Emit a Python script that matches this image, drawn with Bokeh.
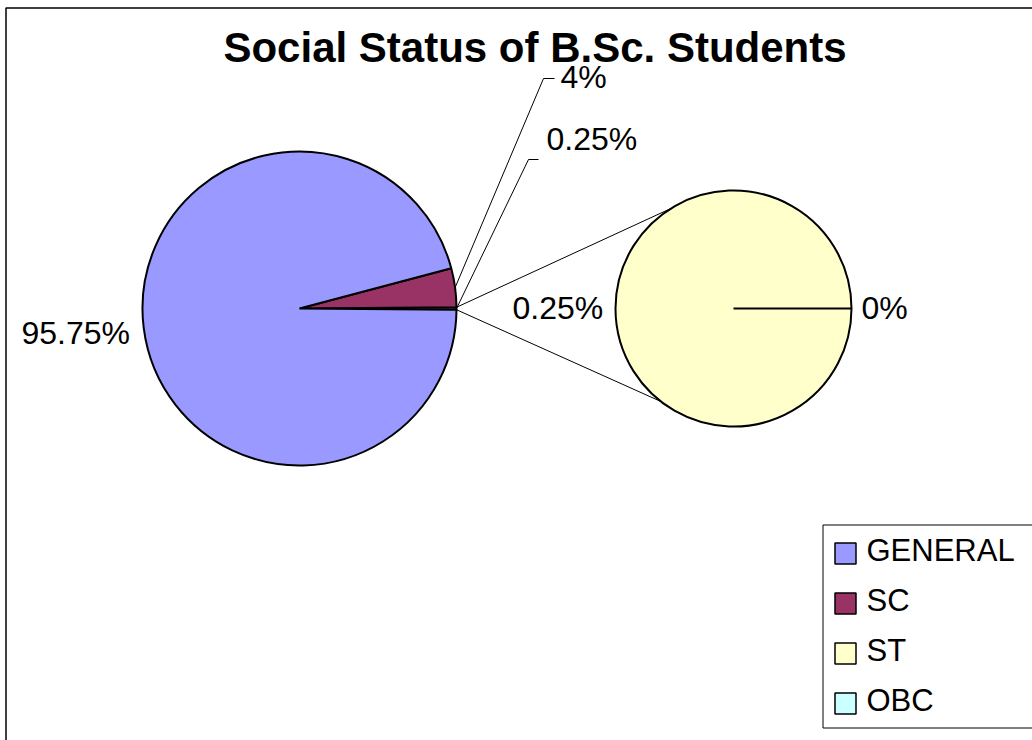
import math
from bokeh.plotting import figure
from bokeh.models import Range1d, ColumnDataSource
from bokeh.core.properties import value
from bokeh.embed import file_html
from bokeh.resources import INLINE

# ---------------- data ----------------
title_text = "Social Status of B.Sc. Students"
categories = ["GENERAL", "SC", "ST", "OBC"]
percentages = [95.75, 4.0, 0.25, 0.0]
colors = ["#9999FF", "#993366", "#FFFFCC", "#CCFFFF"]
secondary = ["ST", "OBC"]          # categories split out into the second pie

# ---------------- layout ----------------
W, H = 1032, 740
FONT = "Liberation Sans"
p = figure(width=W, height=H, output_backend="svg", toolbar_location=None,
           x_range=Range1d(0, W), y_range=Range1d(-H, 0),
           x_axis_type=None, y_axis_type=None, min_border=0)
p.grid.visible = False
p.outline_line_color = None
p.background_fill_color = "white"
p.border_fill_color = "white"

# chart-area border (right/bottom edges run off the page)
p.quad(left=[5.5], right=[1200], top=[-7.5], bottom=[-900],
       fill_color=None, line_color="black", line_width=1.5)

main_cx, main_cy, main_r = 299, -308, 157
sec_cx, sec_cy, sec_r = 733, -308, 118

val = dict(zip(categories, percentages))
col = dict(zip(categories, colors))
other_total = sum(val[c] for c in secondary)
primary = [c for c in categories if c not in secondary]

# main pie: "Other" slice centred on 0 deg, then the rest counter-clockwise
half = other_total / 100 * math.pi
m_names, m_start, m_end, m_col = ["Other"], [-half], [half], [col["ST"]]
a = half
for c in reversed(primary):
    e = a + val[c] / 100 * 2 * math.pi
    m_names.append(c); m_start.append(a); m_end.append(e); m_col.append(col[c])
    a = e
msrc = ColumnDataSource(dict(name=m_names, start=m_start, end=m_end, color=m_col))
p.wedge(x=main_cx, y=main_cy, radius=main_r, start_angle="start", end_angle="end",
        fill_color="color", line_color="black", line_width=2, source=msrc)

# secondary pie
s_start, s_end, s_col = [], [], []
a = 0.0
for c in secondary:
    share = val[c] / other_total if other_total else 0
    if share > 0:
        e = a + min(share * 2 * math.pi, 2 * math.pi - 1e-4)
        s_start.append(a); s_end.append(e); s_col.append(col[c])
        a = e
ssrc = ColumnDataSource(dict(start=s_start, end=s_end, color=s_col))
p.wedge(x=sec_cx, y=sec_cy, radius=sec_r, start_angle="start", end_angle="end",
        fill_color="color", line_color="black", line_width=2, source=ssrc)

def on_circle(cx, cy, r, ang):
    return cx + r * math.cos(ang), cy + r * math.sin(ang)

# connector lines between the pies
u0 = on_circle(main_cx, main_cy, main_r, half)
l0 = on_circle(main_cx, main_cy, main_r, -half)
u1 = on_circle(sec_cx, sec_cy, sec_r, math.radians(122))
l1 = on_circle(sec_cx, sec_cy, sec_r, math.radians(-128))
p.multi_line(xs=[[u0[0], u1[0]], [l0[0], l1[0]]], ys=[[u0[1], u1[1]], [l0[1], l1[1]]],
             line_color="black", line_width=1)

# leader lines
sc_idx = m_names.index("SC")
sc_mid = (m_start[sc_idx] + m_end[sc_idx]) / 2
sp = on_circle(main_cx, main_cy, main_r, sc_mid)
op = on_circle(main_cx, main_cy, main_r, 0.0)
p.multi_line(xs=[[sp[0], 543, 554], [op[0], 528, 538]],
             ys=[[sp[1], -78, -78], [op[1], -159, -159]],
             line_color="black", line_width=1)

def fmt(v):
    return f"{v:g}%"

# title
p.text(x=[534.5], y=[-47], text=[title_text], text_align="center",
       text_baseline="alphabetic", text_font=value(FONT), text_font_size="42px",
       text_font_style="bold", text_color="black")

# data labels
lab_x = [21, 560, 546, 512, 861]
lab_y = [-332, -76, -138, -307, -307]
lab_t = [fmt(val["GENERAL"]), fmt(val["SC"]), fmt(other_total),
         fmt(val["ST"]), fmt(val["OBC"])]
p.text(x=lab_x, y=lab_y, text=lab_t, text_align="left", text_baseline="alphabetic",
       text_font=value(FONT), text_font_size="32px", text_color="black")

# legend
p.quad(left=[822.5], right=[1200], top=[-524.5], bottom=[-727.5],
       fill_color="white", line_color="black", line_width=1)
n = len(categories)
p.rect(x=[845] * n, y=[-(553 + 50 * i) for i in range(n)], width=21, height=21,
       fill_color=colors, line_color="black", line_width=1.5)
p.text(x=[866] * n, y=[-(550 + 50 * i) for i in range(n)], text=categories,
       text_align="left", text_baseline="alphabetic", text_font=value(FONT),
       text_font_size="31px", text_color="black")

open("out.html", "w").write(file_html(p, INLINE))
